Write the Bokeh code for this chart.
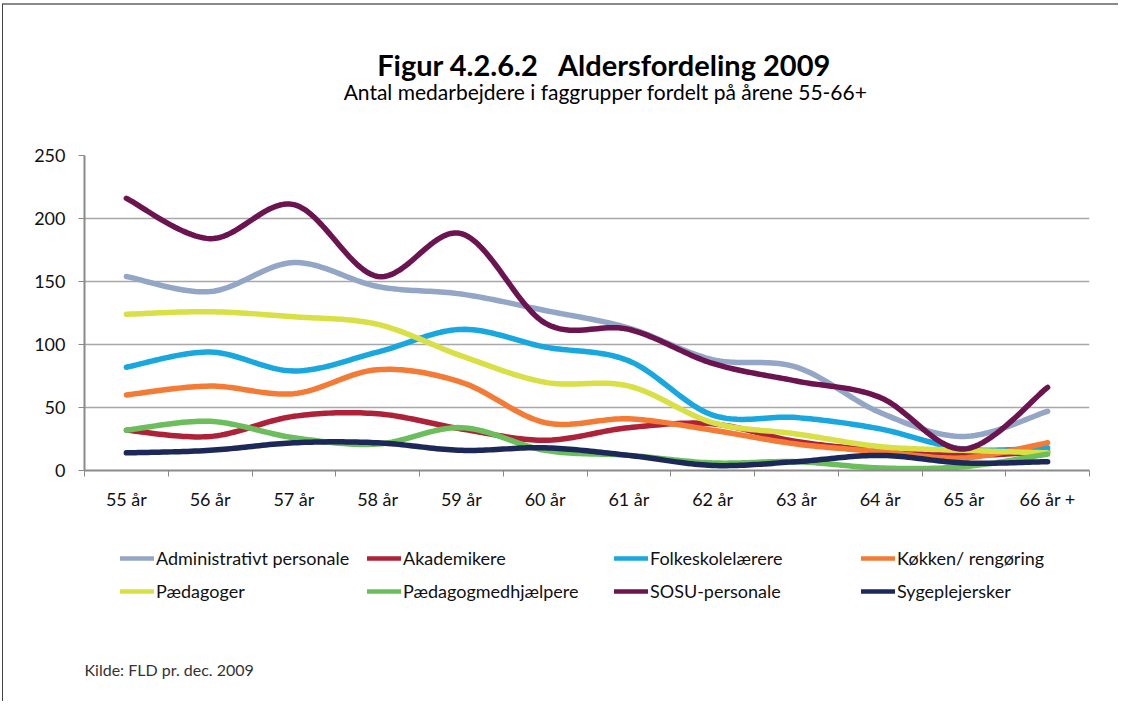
from bokeh.plotting import figure
from bokeh.layouts import column
from bokeh.models import (Range1d, FixedTicker, CustomJSTickFormatter, Legend,
                          LegendItem, Label)
from bokeh.embed import file_html
from bokeh.resources import INLINE

# ---- data ----
categories = ["55 år", "56 år", "57 år", "58 år", "59 år", "60 år",
              "61 år", "62 år", "63 år", "64 år", "65 år", "66 år +"]

administrativt = [154, 142, 165, 146, 140, 127, 113, 88, 82, 46, 27, 47]
akademikere = [32, 27, 43, 45, 33, 24, 34, 37, 23, 16, 12, 15]
folkeskole = [82, 94, 79, 94, 112, 98, 87, 44, 42, 33, 17, 18]
kokken = [60, 67, 61, 80, 70, 38, 41, 32, 21, 15, 10, 22]
paedagoger = [124, 126, 122, 116, 91, 70, 67, 38, 29, 19, 16, 14]
paedagogmedhj = [32, 39, 26, 21, 34, 16, 12, 6, 7, 2, 3, 13]
sosu = [216, 184, 211, 154, 188, 117, 112, 85, 71, 58, 17, 66]
sygeplejersker = [14, 16, 22, 22, 16, 18, 12, 4, 7, 12, 6, 7]

series_names = ["Administrativt personale", "Akademikere", "Folkeskolelærere",
                "Køkken/ rengøring", "Pædagoger", "Pædagogmedhjælpere",
                "SOSU-personale", "Sygeplejersker"]
series_values = [administrativt, akademikere, folkeskole, kokken,
                 paedagoger, paedagogmedhj, sosu, sygeplejersker]
series_colors = ["#94A6C6", "#AE2239", "#19A7DF", "#F47B36",
                 "#D8E046", "#6BBE5B", "#6B1450", "#1B2858"]

y_ticks = [0, 50, 100, 150, 200, 250]

title_text = "Figur 4.2.6.2\u00a0\u00a0 Aldersfordeling 2009"
subtitle_text = "Antal medarbejdere i faggrupper fordelt på årene 55-66+"
source_text = "Kilde: FLD pr. dec. 2009"

FONT = "Lato"
W = 1115
BL, BR = 81, 29


def smooth(xs, ys, steps=24):
    """Excel-style smoothed line: cubic Bezier segments through the points."""
    n = len(xs)
    out_x, out_y = [], []
    for i in range(n - 1):
        x0, y0 = xs[i], ys[i]
        x1, y1 = xs[i + 1], ys[i + 1]
        xp, yp = (xs[i - 1], ys[i - 1]) if i > 0 else (x0, y0)
        xn, yn = (xs[i + 2], ys[i + 2]) if i + 2 < n else (x1, y1)
        c1x, c1y = x0 + (x1 - xp) / 6.0, y0 + (y1 - yp) / 6.0
        c2x, c2y = x1 - (xn - x0) / 6.0, y1 - (yn - y0) / 6.0
        for k in range(steps + (1 if i == n - 2 else 0)):
            t = k / steps
            a = (1 - t) ** 3
            b = 3 * (1 - t) ** 2 * t
            c = 3 * (1 - t) * t ** 2
            d = t ** 3
            out_x.append(a * x0 + b * c1x + c * c2x + d * x1)
            out_y.append(a * y0 + b * c1y + c * c2y + d * y1)
    return out_x, out_y


def blank(height, y_range=(0, 1)):
    f = figure(width=W, height=height, output_backend="svg", toolbar_location=None,
               x_range=Range1d(0, 1), y_range=Range1d(*y_range),
               x_axis_type=None, y_axis_type=None,
               min_border_left=BL, min_border_right=BR,
               min_border_top=0, min_border_bottom=0)
    f.outline_line_color = None
    f.grid.visible = False
    f.background_fill_color = "white"
    f.border_fill_color = "white"
    return f


# ---------- title block ----------
p_top = blank(117)
p_top.add_layout(Label(x=520, y=58, x_units="screen", y_units="screen",
                       text=title_text, text_align="center", text_baseline="middle",
                       text_font=FONT, text_font_size="29px", text_font_style="bold",
                       text_color="#000000"))
p_top.add_layout(Label(x=521, y=31, x_units="screen", y_units="screen",
                       text=subtitle_text, text_align="center", text_baseline="middle",
                       text_font=FONT, text_font_size="21px", text_color="#000000"))

# ---------- main chart ----------
xpos = [i + 0.5 for i in range(len(categories))]

p = figure(width=W, height=398, output_backend="svg", toolbar_location=None,
           x_range=Range1d(0, len(categories)), y_range=Range1d(0, 250),
           min_border_left=BL, min_border_right=BR, min_border_top=33,
           min_border_bottom=50)
p.outline_line_color = None
p.background_fill_color = "white"
p.border_fill_color = "white"

p.xaxis.ticker = FixedTicker(ticks=xpos, minor_ticks=list(range(len(categories) + 1)))
p.xaxis.formatter = CustomJSTickFormatter(args=dict(labels=categories),
                                          code="return labels[Math.round(tick - 0.5)];")
p.xaxis.major_tick_out = 0
p.xaxis.major_tick_in = 0
p.xaxis.minor_tick_out = 6
p.xaxis.minor_tick_in = 0
p.xaxis.minor_tick_line_color = "#8a8a8a"
p.xaxis.minor_tick_line_width = 1
p.xaxis.axis_line_color = "#8a8a8a"
p.xaxis.axis_line_width = 2
p.xaxis.major_label_standoff = 11
p.xaxis.major_label_text_font = FONT
p.xaxis.major_label_text_font_size = "18px"
p.xaxis.major_label_text_color = "#111111"

p.yaxis.ticker = FixedTicker(ticks=y_ticks)
p.yaxis.major_tick_out = 6
p.yaxis.major_tick_in = 0
p.yaxis.minor_tick_line_color = None
p.yaxis.major_tick_line_color = "#8a8a8a"
p.yaxis.axis_line_color = "#8a8a8a"
p.yaxis.axis_line_width = 2
p.yaxis.major_label_standoff = 13
p.yaxis.major_label_text_font = FONT
p.yaxis.major_label_text_font_size = "18px"
p.yaxis.major_label_text_color = "#111111"

p.xgrid.grid_line_color = None
p.ygrid.ticker = FixedTicker(ticks=y_ticks[1:])
p.ygrid.grid_line_color = "#a8a8a8"
p.ygrid.grid_line_width = 1.5

for vals, col in zip(series_values, series_colors):
    sx, sy = smooth(xpos, vals)
    p.line(sx, sy, line_color=col, line_width=5.5, line_cap="round",
           line_join="round")

# ---------- legend + source ----------
# y range lies below every value, so these legend-carrier lines stay out of view
p_bot = blank(181, y_range=(-2, -1))
items = []
for name, vals, col in zip(series_names, series_values, series_colors):
    r = p_bot.line(x=xpos, y=vals, line_color=col, line_width=4.5, line_cap="round")
    items.append(LegendItem(label=name, renderers=[r]))

legend = Legend(items=items, orientation="horizontal", ncols=4,
                location=(36, 99), glyph_width=34, glyph_height=22,
                label_height=22, label_width=200, label_standoff=2,
                spacing=11, padding=0, margin=0,
                label_text_font=FONT, label_text_font_size="18px",
                label_text_color="#111111",
                border_line_color=None, background_fill_alpha=0)
p_bot.add_layout(legend, "center")
p_bot.add_layout(Label(x=0, y=32, x_units="screen", y_units="screen",
                       text=source_text, text_align="left", text_baseline="middle",
                       text_font=FONT, text_font_size="16px", text_color="#333333"))

layout = column(p_top, p, p_bot, spacing=0,
                styles={"border-top": "2px solid #8a8a8a",
                        "border-left": "1px solid #444444",
                        "margin-top": "3px", "margin-left": "2px"})

open("out.html", "w").write(file_html(layout, INLINE))
